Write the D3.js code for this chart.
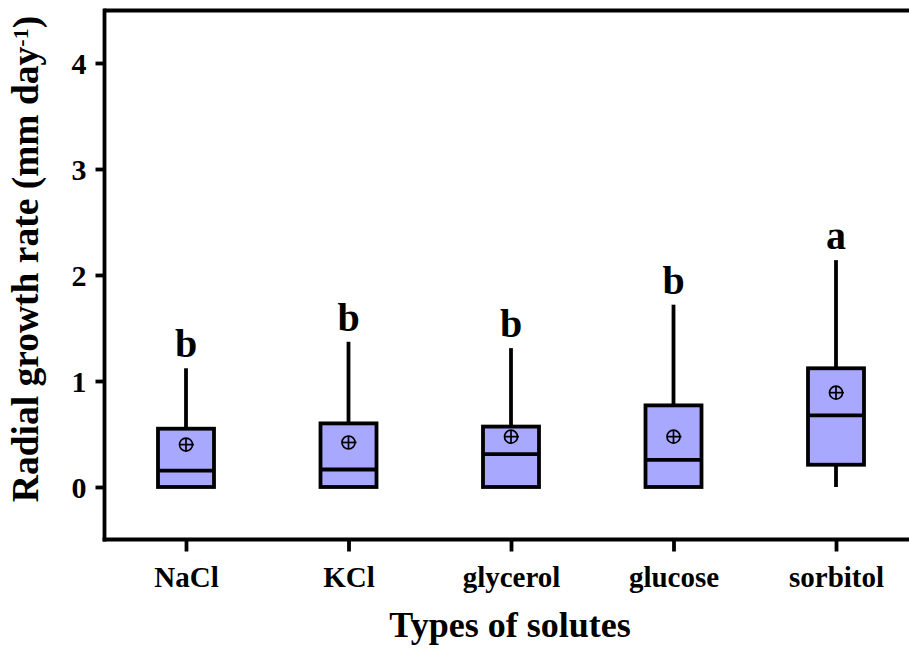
<!DOCTYPE html>
<html>
<head>
<meta charset="utf-8">
<script src="https://cdn.jsdelivr.net/npm/d3@7"></script>
<style>
  html, body { margin: 0; padding: 0; background: #ffffff; }
  svg { display: block; }
  text { font-family: "Liberation Serif", "Times New Roman", serif; font-weight: bold; fill: #000; }
</style>
</head>
<body>
<svg id="chart" width="909" height="648"></svg>
<script>
// Solute treatments and box-plot summaries of radial growth rate (mm/day)
const categories = ["NaCl", "KCl", "glycerol", "glucose", "sorbitol"];
const whiskerLow = [0, 0, 0, 0, 0];
const q1 = [0, 0, 0, 0, 0.21];
const medians = [0.155, 0.165, 0.31, 0.255, 0.675];
const q3 = [0.55, 0.60, 0.57, 0.77, 1.12];
const whiskerHigh = [1.12, 1.37, 1.31, 1.72, 2.14];
const means = [0.40, 0.42, 0.475, 0.475, 0.89];
const groupLetters = ["b", "b", "b", "b", "a"];
const yTicks = [0, 1, 2, 3, 4];

const data = categories.map((c, i) => ({
  name: c, lo: whiskerLow[i], q1: q1[i], med: medians[i], q3: q3[i],
  hi: whiskerHigh[i], mean: means[i], letter: groupLetters[i]
}));

const svg = d3.select("#chart");
const W = 909;
const plotLeft = 104.5, plotTop = 10.5;
const sw = 3.8;

const x = d3.scalePoint().domain(categories).range([186, 836]);
const y = d3.scaleLinear().domain([-0.5, 4.5]).range([540, 10]);

const boxW = 56;
const fill = "#a8a8ff";

// frame: top border line
svg.append("line")
  .attr("x1", plotLeft).attr("x2", W).attr("y1", plotTop).attr("y2", plotTop)
  .attr("stroke", "#000").attr("stroke-width", sw);

// y axis
const yAxis = svg.append("g").attr("transform", `translate(${plotLeft},0)`)
  .call(d3.axisLeft(y).tickValues(yTicks).tickSize(9).tickPadding(9).tickFormat(d3.format("d")));
yAxis.select(".domain").remove();
yAxis.selectAll(".tick line").attr("stroke", "#000").attr("stroke-width", sw);
yAxis.selectAll(".tick text").style("font-size", "30px").attr("dy", "0.34em");
yAxis.append("line").attr("x1", 0).attr("x2", 0).attr("y1", plotTop - sw / 2).attr("y2", 541.5)
  .attr("stroke", "#000").attr("stroke-width", sw);

// x axis
const xAxis = svg.append("g").attr("transform", `translate(0,539.5)`)
  .call(d3.axisBottom(x).tickSize(12).tickPadding(15));
xAxis.select(".domain").remove();
xAxis.selectAll(".tick line").attr("stroke", "#000").attr("stroke-width", sw);
xAxis.selectAll(".tick text").style("font-size", "29px");
xAxis.append("line").attr("x1", plotLeft - sw / 2).attr("x2", W).attr("y1", 0).attr("y2", 0)
  .attr("stroke", "#000").attr("stroke-width", 4);

// boxes
const g = svg.append("g");
const box = g.selectAll(".box").data(data).enter().append("g").attr("class", "box");

// whiskers
box.append("line")
  .attr("x1", d => x(d.name)).attr("x2", d => x(d.name))
  .attr("y1", d => y(d.q3)).attr("y2", d => y(d.hi))
  .attr("stroke", "#000").attr("stroke-width", sw);
box.filter(d => d.q1 > d.lo).append("line")
  .attr("x1", d => x(d.name)).attr("x2", d => x(d.name))
  .attr("y1", d => y(d.lo)).attr("y2", d => y(d.q1))
  .attr("stroke", "#000").attr("stroke-width", sw);

box.append("rect")
  .attr("x", d => x(d.name) - boxW / 2).attr("width", boxW)
  .attr("y", d => y(d.q3)).attr("height", d => y(d.q1) - y(d.q3))
  .attr("fill", fill).attr("stroke", "#000").attr("stroke-width", sw);

box.append("line")
  .attr("x1", d => x(d.name) - boxW / 2).attr("x2", d => x(d.name) + boxW / 2)
  .attr("y1", d => y(d.med)).attr("y2", d => y(d.med))
  .attr("stroke", "#000").attr("stroke-width", sw);

// mean markers (circled plus)
const r = 6.5;
const mean = box.append("g").attr("transform", d => `translate(${x(d.name)},${y(d.mean)})`);
mean.append("circle").attr("r", r).attr("fill", "none").attr("stroke", "#000").attr("stroke-width", 1.7);
mean.append("line").attr("x1", -r).attr("x2", r + 1.5).attr("y1", 0).attr("y2", 0)
  .attr("stroke", "#000").attr("stroke-width", 1.7);
mean.append("line").attr("x1", 0).attr("x2", 0).attr("y1", -r).attr("y2", r)
  .attr("stroke", "#000").attr("stroke-width", 1.7);

// significance letters
box.append("text")
  .attr("x", d => x(d.name)).attr("y", d => y(d.hi) - 11)
  .attr("text-anchor", "middle").style("font-size", "40px")
  .text(d => d.letter);

// axis titles
svg.append("text").attr("x", 510).attr("y", 637).attr("text-anchor", "middle")
  .style("font-size", "36px").text("Types of solutes");

const yt = svg.append("text")
  .attr("transform", `translate(38,259) rotate(-90)`)
  .attr("text-anchor", "middle").style("font-size", "37.5px");
yt.append("tspan").text("Radial growth rate (mm day");
yt.append("tspan").attr("dy", "-0.45em").style("font-size", "22px").text("-1");
yt.append("tspan").attr("dy", "0.3em").text(")");
</script>
</body>
</html>
